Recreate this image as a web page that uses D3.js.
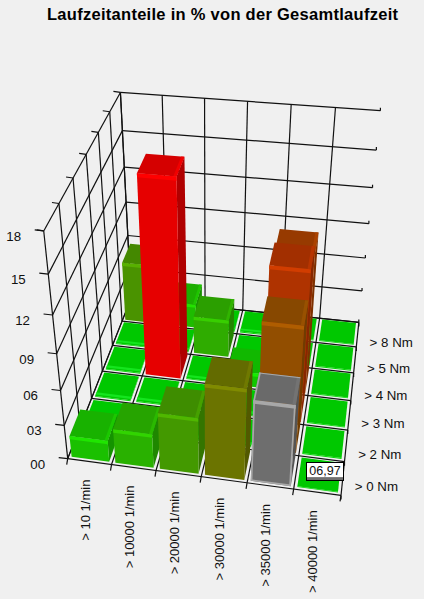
<!DOCTYPE html>
<html>
<head>
<meta charset="utf-8">
<script src="https://cdn.jsdelivr.net/npm/d3@7"></script>
<style>
  html, body { margin: 0; padding: 0; background: #f0f0f0; }
  svg { display: block; font-family: "Liberation Sans", Arial, sans-serif; }
</style>
</head>
<body>
<div id="app"></div>
<script>
const width = 424, height = 599;

const speedLabels = ["> 10 1/min", "> 10000 1/min", "> 20000 1/min", "> 30000 1/min", "> 35000 1/min", "> 40000 1/min"];
const torqueLabels = ["> 0 Nm", "> 2 Nm", "> 3 Nm", "> 4 Nm", "> 5 Nm", "> 8 Nm"];
const valueTicks = ["00", "03", "06", "09", "12", "15", "18"];
const titleText = "Laufzeitanteile in % von der Gesamtlaufzeit";
const tooltipText = "06,97";

// one row per torque class, front row first
const row0 = [1.9, 3.0, 4.9, 7.8, 6.97, 0];
const row1 = [0, 0, 0, 0, 10.7, 0];
const row2 = [0, 0, 0, 0, 12.8, 0];
const row3 = [0, 16.8, 0, 1.3, 11.9, 0];
const row4 = [0, 0, 3.4, 0, 0, 0];
const row5 = [5.4, 2.2, 0, 0, 0, 0];
const rows = [row0, row1, row2, row3, row4, row5];
const selected = { col: 4, row: 0 };

// screen anchors of the box corners [col, row, value, px, py], used to fit the camera
const anchors = [
  [0, 0, 0, 71, 458], [6, 0, 0, 340, 497], [6, 6, 0, 360, 320], [0, 6, 0, 128, 300],
  [0, 0, 18, 41, 230], [0, 6, 18, 123, 92], [6, 6, 18, 380, 112]
];

function solve(A, b) {
  const n = b.length;
  const M = A.map((r, i) => [...r, b[i]]);
  for (let i = 0; i < n; i++) {
    let p = i;
    for (let k = i + 1; k < n; k++) if (Math.abs(M[k][i]) > Math.abs(M[p][i])) p = k;
    [M[i], M[p]] = [M[p], M[i]];
    for (let k = i + 1; k < n; k++) {
      const f = M[k][i] / M[i][i];
      for (let j = i; j <= n; j++) M[k][j] -= f * M[i][j];
    }
  }
  const x = new Array(n).fill(0);
  for (let i = n - 1; i >= 0; i--) {
    let s = M[i][n];
    for (let j = i + 1; j < n; j++) s -= M[i][j] * x[j];
    x[i] = s / M[i][i];
  }
  return x;
}

const xs = d3.scaleLinear().domain([0, 6]).range([0, 1]);
const ys = d3.scaleLinear().domain([0, 6]).range([0, 1]);
const zs = d3.scaleLinear().domain([0, 18]).range([0, 1]);

function fitCamera() {
  const eqs = [], rhs = [];
  anchors.forEach(([c, r, v, px, py]) => {
    const X = xs(c), Y = ys(r), Z = zs(v);
    eqs.push([X, Y, Z, 1, 0, 0, 0, 0, -px * X, -px * Y, -px * Z]); rhs.push(px);
    eqs.push([0, 0, 0, 0, X, Y, Z, 1, -py * X, -py * Y, -py * Z]); rhs.push(py);
  });
  const ATA = d3.range(11).map(i => d3.range(11).map(j => d3.sum(eqs, e => e[i] * e[j])));
  const ATb = d3.range(11).map(i => d3.sum(eqs, (e, k) => e[i] * rhs[k]));
  return solve(ATA, ATb);
}
const cam = fitCamera();

function project(c, r, v) {
  const X = xs(c), Y = ys(r), Z = zs(v);
  const w = cam[8] * X + cam[9] * Y + cam[10] * Z + 1;
  return [(cam[0] * X + cam[1] * Y + cam[2] * Z + cam[3]) / w,
          (cam[4] * X + cam[5] * Y + cam[6] * Z + cam[7]) / w];
}

const valueMax = d3.max(rows.flat());
const color = d3.scaleLinear().domain([0, valueMax]).range(["#00d800", "#e60000"]);

const svg = d3.select("#app").append("svg").attr("width", width).attr("height", height);
const line = d3.line();

svg.append("text")
  .attr("x", 222.5).attr("y", 20)
  .attr("text-anchor", "middle")
  .attr("font-size", 16.5).attr("font-weight", "bold")
  .attr("textLength", 351).attr("lengthAdjust", "spacing")
  .attr("fill", "#000")
  .text(titleText);

const grid = svg.append("g").attr("fill", "none").attr("stroke", "#111").attr("stroke-width", 1.2);
function seg(a, b) { grid.append("path").attr("d", line([a, b])); }
function tick(a, dx, dy) { grid.append("path").attr("d", line([a, [a[0] + dx, a[1] + dy]])); }

const colTicks = d3.range(0, 7), rowTicks = d3.range(0, 7), zTicks = d3.range(0, 21, 3).filter(v => v <= 18);

// back wall and left wall
zTicks.forEach(v => {
  seg(project(0, 6, v), project(6, 6, v));
  seg(project(0, 0, v), project(0, 6, v));
  tick(project(6, 6, v), 0, -3);
  tick(project(0, 0, v), -9, -1);
});
colTicks.slice(0, 6).forEach(c => seg(project(c, 6, 0), project(c, 6, 18)));
rowTicks.forEach(r => {
  seg(project(0, r, 0), project(0, r, 18));
  tick(project(0, r, 18), -7, -1);
});
// floor
colTicks.forEach(c => {
  seg(project(c, 0, 0), project(c, 6, 0));
  tick(project(c, 0, 0), -1, 6);
});
rowTicks.forEach(r => {
  seg(project(0, r, 0), project(6, r, 0));
  tick(project(6, r, 0), 0, 4);
});

// bars, far row first and left to right so nearer ones cover the others
const barGap = 0.07;
const bars = [];
d3.range(5, -1, -1).forEach(r => {
  d3.range(0, 6).forEach(c => bars.push({ c, r, v: rows[r][c] }));
});

const barG = svg.append("g").attr("stroke", "none");
const poly = (pts, fill) => barG.append("path").attr("d", line(pts) + "Z").attr("fill", fill);

bars.forEach(d => {
  const isSel = d.c === selected.col && d.r === selected.row;
  const base = isSel ? d3.color("#6e6e6e") : d3.color(color(d.v));
  const x0 = d.c + barGap, x1 = d.c + 1 - barGap;
  const y0 = d.r + barGap, y1 = d.r + 1 - barGap;
  const flat = d.v === 0;
  const h = flat ? 0.08 : d.v;

  const side = base.darker(0.75);
  const top = isSel ? d3.color("#6a6a6a") : base.darker(0.22);
  const light = isSel ? d3.color("#a8a8a8") : base.brighter(0.5);

  poly([project(x1, y0, 0), project(x1, y1, 0), project(x1, y1, h), project(x1, y0, h)], side);
  poly([project(x0, y0, 0), project(x1, y0, 0), project(x1, y0, h), project(x0, y0, h)], base);
  poly([project(x0, y0, h), project(x1, y0, h), project(x1, y1, h), project(x0, y1, h)], top);
  if (flat) {
    // flat cells only get a thin lit strip near the front edge
    if (d.c < 4) poly([project(x0, y0 + 0.05, h), project(x1, y0 + 0.05, h), project(x1, y0 + 0.13, h), project(x0, y0 + 0.13, h)], "#14e61e");
    return;
  }
  const bevel = Math.min(0.3, h * 0.3);
  poly([project(x0, y0, h), project(x1, y0, h), project(x1, y0, h - bevel), project(x0, y0, h - bevel)], light);
  poly([project(x1 - 0.07, y0, h), project(x1, y0, h), project(x1, y1, h), project(x1 - 0.07, y1, h)], base.brighter(0.12));
  if (isSel) {
    const t = 0.035;
    poly([project(x0, y0, h), project(x0 + t, y0, h), project(x0 + t, y1, h), project(x0, y1, h)], light);
    poly([project(x0, y1 - t, h), project(x1, y1 - t, h), project(x1, y1, h), project(x0, y1, h)], light);
    poly([project(x0, y0, 0), project(x0 + t, y0, 0), project(x0 + t, y0, h), project(x0, y0, h)], light);
    poly([project(x1 - t, y0, 0), project(x1, y0, 0), project(x1, y0, h), project(x1 - t, y0, h)], light);
    poly([project(x0, y0, 0.15), project(x1, y0, 0.15), project(x1, y0, 0), project(x0, y0, 0)], light);
  }
});

// value labels on the left edge
svg.append("g").selectAll("text").data(valueTicks).join("text")
  .attr("x", (d, i) => project(0, 0, i * 3)[0] - 30)
  .attr("y", (d, i) => project(0, 0, i * 3)[1] + 10)
  .attr("text-anchor", "middle")
  .attr("font-size", 13.3)
  .attr("fill", "#111")
  .text(d => d);

// torque labels right of the floor
svg.append("g").selectAll("text").data(torqueLabels).join("text")
  .attr("x", (d, i) => project(6, i + 0.5, 0)[0] + 12)
  .attr("y", (d, i) => project(6, i + 0.5, 0)[1] + 13)
  .attr("font-size", 13.3)
  .attr("fill", "#111")
  .text(d => d);

// speed labels under the floor, rotated
svg.append("g").selectAll("text").data(speedLabels).join("text")
  .attr("transform", (d, i) => {
    const p = project(i + 0.5, 0, 0);
    return `translate(${p[0]},${p[1] + 18}) rotate(-90)`;
  })
  .attr("text-anchor", "end")
  .attr("font-size", 13)
  .attr("fill", "#111")
  .text(d => d);

// tooltip of the selected bar
const tip = svg.append("g").attr("transform", "translate(306,462)");
tip.append("rect").attr("width", 38).attr("height", 19).attr("fill", "#000");
tip.append("rect").attr("x", 1).attr("y", 1).attr("width", 36).attr("height", 14.5).attr("fill", "#fff");
tip.append("rect").attr("x", 1).attr("y", 16.5).attr("width", 36).attr("height", 1).attr("fill", "#ddd");
tip.append("text").attr("x", 19).attr("y", 13).attr("text-anchor", "middle")
  .attr("font-size", 12.5).attr("fill", "#111").text(tooltipText);
</script>
</body>
</html>
